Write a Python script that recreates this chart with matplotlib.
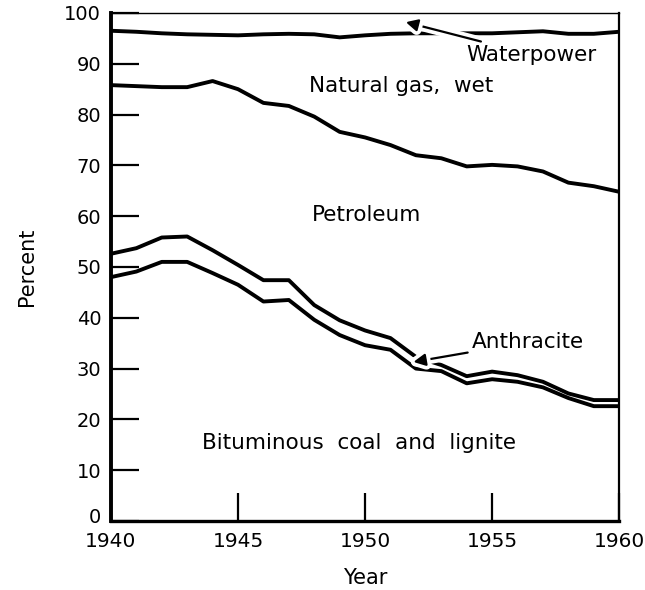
import matplotlib
matplotlib.use("Agg")
import matplotlib.pyplot as plt
import matplotlib.patheffects as pe
from matplotlib.transforms import ScaledTranslation

years = list(range(1940, 1961))
# cumulative boundaries (percent)
bituminous_top = [48.0, 49.1, 51.0, 51.0, 48.8, 46.5, 43.2, 43.5, 39.6, 36.6, 34.6,
                  33.7, 30.0, 29.5, 27.1, 27.9, 27.4, 26.3, 24.2, 22.6, 22.6]
anthracite_top = [52.6, 53.7, 55.8, 56.0, 53.3, 50.4, 47.4, 47.4, 42.5, 39.5, 37.5,
                  36.0, 32.3, 30.7, 28.5, 29.4, 28.7, 27.4, 25.1, 23.8, 23.8]
petroleum_top = [85.8, 85.6, 85.4, 85.4, 86.6, 85.0, 82.3, 81.7, 79.6, 76.6, 75.5,
                 74.0, 72.0, 71.4, 69.8, 70.1, 69.8, 68.8, 66.6, 65.9, 64.8]
natgas_top = [96.5, 96.3, 96.0, 95.8, 95.7, 95.6, 95.8, 95.9, 95.8, 95.2, 95.6,
              95.9, 96.0, 96.0, 96.0, 96.0, 96.2, 96.4, 95.9, 95.9, 96.3]

y_ticks = [0, 10, 20, 30, 40, 50, 60, 70, 80, 90, 100]
x_ticks = [1940, 1945, 1950, 1955, 1960]

fig = plt.figure(figsize=(6.45, 5.90), dpi=100)
ax = fig.add_axes([0.172, 0.117, 0.788, 0.861])

lw = 2.8
for series in (bituminous_top, anthracite_top, petroleum_top, natgas_top):
    ax.plot(years, series, color="black", lw=lw, solid_capstyle="butt", zorder=3)

ax.set_xlim(1940, 1960)
ax.set_ylim(0, 100)
ax.set_xticks(x_ticks)
ax.set_yticks(y_ticks)
ax.tick_params(axis="both", direction="in", length=20, width=1.6,
               color="black")
ax.tick_params(axis="x", pad=8, labelsize=14.5)
ax.tick_params(axis="y", pad=7, labelsize=14)
# nudge the "0" label up slightly, as in the original
lbl0 = ax.get_yticklabels()[0]
lbl0.set_transform(lbl0.get_transform() + ScaledTranslation(0, 4 / 72, fig.dpi_scale_trans))

for side, w in (("left", 2.8), ("bottom", 2.4), ("right", 1.6), ("top", 1.0)):
    ax.spines[side].set_linewidth(w)
    ax.spines[side].set_color("black")

ax.set_xlabel("Year", fontsize=15, labelpad=12)
ax.set_ylabel("Percent", fontsize=15, labelpad=20)

fs = 15.5
ax.text(1947.8, 85.6, "Natural gas,  wet", fontsize=fs, va="center", ha="left")
ax.text(1947.9, 60.3, "Petroleum", fontsize=fs, va="center", ha="left")
ax.text(1943.6, 15.3, "Bituminous  coal  and  lignite", fontsize=fs, va="center", ha="left")

halo = [pe.withStroke(linewidth=7, foreground="white")]
ax.annotate("Waterpower", xy=(1951.6, 98.2), xytext=(1954.0, 91.8),
            fontsize=fs, va="center", ha="left", zorder=5,
            arrowprops=dict(arrowstyle="-|>", color="black", lw=1.6,
                            mutation_scale=18, shrinkA=1, shrinkB=0,
                            path_effects=halo))
ax.annotate("Anthracite", xy=(1951.9, 31.3), xytext=(1954.2, 35.2),
            fontsize=fs, va="center", ha="left", zorder=5,
            arrowprops=dict(arrowstyle="-|>", color="black", lw=1.6,
                            mutation_scale=18, shrinkA=1, shrinkB=0,
                            path_effects=halo))

fig.savefig("out.png", dpi=100)
